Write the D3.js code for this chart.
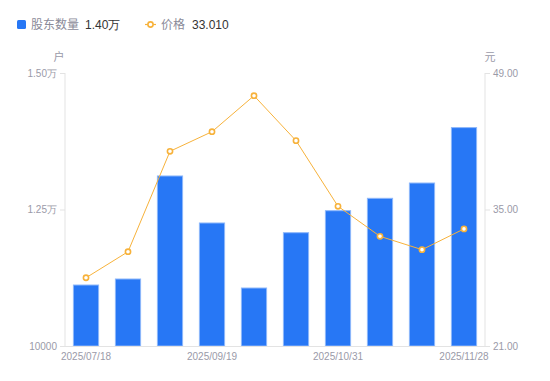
<!DOCTYPE html>
<html><head><meta charset="utf-8">
<script src="https://cdn.jsdelivr.net/npm/d3@7"></script>
<style>body{margin:0;background:#fff;font-family:"Noto Sans CJK SC","Noto Sans",sans-serif;}</style>
</head><body><svg id="c" width="550" height="381"></svg>
<script>
const dates = ["2025/07/18","2025/07/31","2025/08/29","2025/09/19","2025/09/30","2025/10/20","2025/10/31","2025/11/10","2025/11/20","2025/11/28"];
const holders = [11117,11227,13114,12253,11062,12075,12478,12705,12985,14000];
const prices = [28.00,30.67,40.97,42.98,46.67,42.06,35.33,32.25,30.88,33.01];
const leftTicks = [10000,12500,15000];
const leftTickLabels = ["10000","1.25万","1.50万"];
const rightTicks = [21,35,49];

const svg = d3.select("#c");
const L=65, R=485, T=73, B=346;
const x = d3.scaleBand().domain(dates).range([L,R]).paddingInner(0.4).paddingOuter(0.2);
const yL = d3.scaleLinear().domain([10000,15000]).range([B,T]);
const yR = d3.scaleLinear().domain([21,49]).range([B,T]);
const gray="#9a9aa8", axisC="#e3e3e3";

// axes lines
svg.append("line").attr("x1",L).attr("x2",L).attr("y1",T).attr("y2",B).attr("stroke",axisC);
svg.append("line").attr("x1",R).attr("x2",R).attr("y1",T).attr("y2",B).attr("stroke",axisC);

const la = svg.append("g").attr("transform",`translate(${L},0)`)
  .call(d3.axisLeft(yL).tickValues(leftTicks).tickSize(5).tickPadding(3).tickFormat((d,i)=>leftTickLabels[i]));
const ra = svg.append("g").attr("transform",`translate(${R},0)`)
  .call(d3.axisRight(yR).tickValues(rightTicks).tickSize(5).tickPadding(3).tickFormat(d3.format(".2f")));
[la,ra].forEach(g=>{g.select(".domain").remove();g.selectAll("line").attr("stroke",axisC);
  g.selectAll("text").attr("fill",gray).style("font-size","10px").style("font-family","Liberation Sans, Arial, sans-serif");});

// bars
svg.selectAll("rect.bar").data(holders).join("rect").attr("class","bar")
  .attr("x",(d,i)=>x(dates[i])).attr("width",x.bandwidth())
  .attr("y",d=>yL(d)).attr("height",d=>B-yL(d))
  .attr("fill","#2777f5").attr("stroke","#8db7fa").attr("stroke-width",1);

// x axis
svg.append("line").attr("x1",L).attr("x2",R).attr("y1",B+0.5).attr("y2",B+0.5).attr("stroke",axisC);
const xa = svg.append("g").attr("transform",`translate(0,${B})`)
  .call(d3.axisBottom(x).tickValues(dates.filter((d,i)=>i%3===0)).tickSize(0).tickPadding(7));
xa.select(".domain").remove();
xa.selectAll("text").attr("fill",gray).style("font-size","10px").style("font-family","Liberation Sans, Arial, sans-serif");

// line
const cx = (i)=>x(dates[i])+x.bandwidth()/2;
svg.append("path").datum(prices).attr("fill","none").attr("stroke","#f7b23b").attr("stroke-width",1)
  .attr("d",d3.line().x((d,i)=>cx(i)).y(d=>yR(d)));
svg.selectAll("circle.pt").data(prices).join("circle").attr("class","pt")
  .attr("cx",(d,i)=>cx(i)).attr("cy",d=>yR(d)).attr("r",2.6)
  .attr("fill","#fff").attr("stroke","#f7b23b").attr("stroke-width",1.6);

// units
svg.append("text").attr("x",59).attr("y",61).attr("text-anchor","middle").attr("fill",gray).style("font-size","11px").text("户");
svg.append("text").attr("x",490).attr("y",61).attr("text-anchor","middle").attr("fill",gray).style("font-size","11px").text("元");

// legend
svg.append("rect").attr("x",17).attr("y",20).attr("width",9).attr("height",9).attr("rx",1.5).attr("fill","#2777f5");
svg.append("text").attr("x",31).attr("y",29).attr("fill","#8a8a98").style("font-size","12px").text("股东数量");
svg.append("text").attr("x",85).attr("y",29).attr("fill","#333").style("font-size","12px").style("font-family","Liberation Sans, Arial, sans-serif").text(d3.format(".2f")(holders[holders.length-1]/10000)+"万");
svg.append("line").attr("x1",145).attr("x2",156).attr("y1",24.5).attr("y2",24.5).attr("stroke","#f7b23b").attr("stroke-width",1.2);
svg.append("circle").attr("cx",150.5).attr("cy",24.5).attr("r",2.6).attr("fill","#fff").attr("stroke","#f7b23b").attr("stroke-width",1.6);
svg.append("text").attr("x",161).attr("y",29).attr("fill","#8a8a98").style("font-size","12px").text("价格");
svg.append("text").attr("x",192).attr("y",29).attr("fill","#333").style("font-size","12px").style("font-family","Liberation Sans, Arial, sans-serif").text(d3.format(".3f")(prices[prices.length-1]));
</script></body></html>
